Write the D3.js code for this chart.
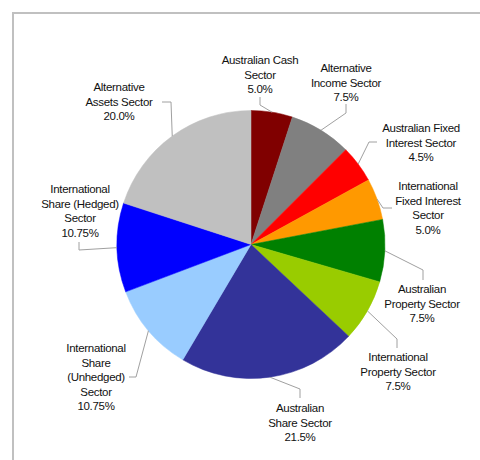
<!DOCTYPE html>
<html>
<head>
<meta charset="utf-8">
<script src="https://cdn.jsdelivr.net/npm/d3@7"></script>
<style>
  body { margin: 0; background: #fff; }
  svg { display: block; font-family: "Liberation Sans", Arial, sans-serif; }
  .lbl { font-size: 11.5px; letter-spacing: -0.3px; fill: #111; }
  .leader { fill: none; stroke: #a0a0a0; stroke-width: 1; }
</style>
</head>
<body>
<svg id="chart" width="480" height="460"></svg>
<script>
// sectors, clockwise from 12 o'clock
const sectors = [
    'Australian Cash Sector', 'Alternative Income Sector', 'Australian Fixed Interest Sector',
    'International Fixed Interest Sector', 'Australian Property Sector', 'International Property Sector',
    'Australian Share Sector', 'International Share (Unhedged) Sector',
    'International Share (Hedged) Sector', 'Alternative Assets Sector'
];
const weights = [5.0, 7.5, 4.5, 5.0, 7.5, 7.5, 21.5, 10.75, 10.75, 20.0];
const pctLabels = ['5.0%', '7.5%', '4.5%', '5.0%', '7.5%', '7.5%', '21.5%', '10.75%', '10.75%', '20.0%'];
// how each label wraps
const labelLines = [
    ['Australian Cash', 'Sector'],
    ['Alternative', 'Income Sector'],
    ['Australian Fixed', 'Interest Sector'],
    ['International', 'Fixed Interest', 'Sector'],
    ['Australian', 'Property Sector'],
    ['International', 'Property Sector'],
    ['Australian', 'Share Sector'],
    ['International', 'Share', '(Unhedged)', 'Sector'],
    ['International', 'Share (Hedged)', 'Sector'],
    ['Alternative', 'Assets Sector']
];
const colors = ['#800000', '#808080', '#ff0000', '#ff9900', '#008000',
                '#99cc00', '#333399', '#99ccff', '#0000ff', '#c0c0c0'];

// label placement (text centre x, first line y, elbow, tail end of leader)
const labelLayout = [
    {x: 260, y: 60,  elbow: [260, 105], tail: [260, 97]},
    {x: 346, y: 68,  elbow: [346, 113], tail: [346, 104]},
    {x: 421, y: 128, elbow: [369, 142], tail: [377, 142]},
    {x: 428, y: 186, elbow: [383, 208], tail: [392, 208]},
    {x: 422, y: 289, elbow: [423, 270], tail: [423, 280]},
    {x: 398, y: 357, elbow: [397, 339], tail: [397, 348]},
    {x: 300, y: 408, elbow: [300, 389], tail: [300, 398]},
    {x: 96,  y: 348, elbow: [136, 377], tail: [129, 377]},
    {x: 80,  y: 189, elbow: [79, 250],  tail: [79, 242]},
    {x: 119, y: 87,  elbow: [171, 102], tail: [162, 102]}
];

const svg = d3.select('#chart');
const cx = 251, cy = 244.5, radius = 134, lineH = 14.6;

// chart frame (right and bottom edges fall outside the view)
svg.append('rect')
    .attr('x', 13).attr('y', 13)
    .attr('width', 520).attr('height', 520)
    .attr('fill', 'none')
    .attr('stroke', '#c0c0c0')
    .attr('stroke-width', 2);

const data = sectors.map((s, i) => ({name: s, value: weights[i], i: i}));

const pie = d3.pie().value(d => d.value).sort(null);
const arc = d3.arc().innerRadius(0).outerRadius(radius);
const edge = d3.arc().innerRadius(radius).outerRadius(radius);

const arcs = pie(data);

const g = svg.append('g').attr('transform', `translate(${cx},${cy})`);

g.selectAll('path.slice')
    .data(arcs)
    .join('path')
    .classed('slice', true)
    .attr('d', arc)
    .attr('fill', d => colors[d.data.i])
    .attr('stroke', d => colors[d.data.i])
    .attr('stroke-width', 0.5);

// leader lines from the middle of each slice edge
svg.selectAll('path.leader')
    .data(arcs)
    .join('path')
    .classed('leader', true)
    .attr('d', d => {
        const p = edge.centroid(d);
        const lay = labelLayout[d.data.i];
        return d3.line()([[cx + p[0], cy + p[1]], lay.elbow, lay.tail]);
    });

const labels = svg.selectAll('text.lbl')
    .data(arcs)
    .join('text')
    .classed('lbl', true)
    .attr('text-anchor', 'middle');

labels.each(function(d) {
    const lay = labelLayout[d.data.i];
    const lines = labelLines[d.data.i].concat([pctLabels[d.data.i]]);
    d3.select(this).selectAll('tspan')
        .data(lines)
        .join('tspan')
        .attr('x', lay.x)
        .attr('y', (l, k) => lay.y + k * lineH)
        .attr('dy', '0.35em')
        .text(l => l);
});
</script>
</body>
</html>
